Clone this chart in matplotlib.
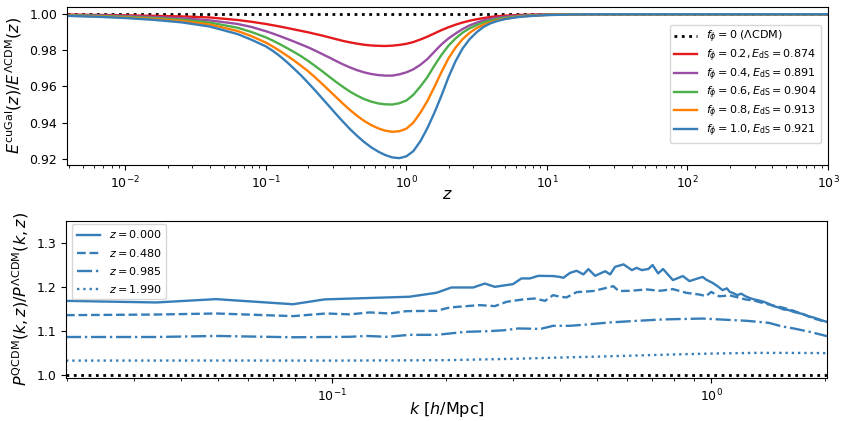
import numpy as np
import matplotlib
matplotlib.use("Agg")
import matplotlib.pyplot as plt

# ---------------- top panel data ----------------
log_z_top = [-2.415, -2.2, -2.0, -1.8, -1.6, -1.4, -1.2, -1.1, -1.0, -0.95, -0.9, -0.85, -0.8,
             -0.75, -0.7, -0.65, -0.6, -0.55, -0.5, -0.45, -0.4, -0.35, -0.3, -0.25, -0.2,
             -0.15, -0.1, -0.05, 0.0, 0.05, 0.1, 0.15, 0.2, 0.25, 0.3, 0.35, 0.4, 0.45, 0.5,
             0.55, 0.6, 0.65, 0.7, 0.8, 0.9, 1.0, 1.1, 1.2, 1.4, 1.7, 2.0, 2.5, 3.0]

E_f02 = [0.9998, 0.9996, 0.9994, 0.9991, 0.9988, 0.9982, 0.9968, 0.9958, 0.9946, 0.9939, 0.9932,
         0.9924, 0.9916, 0.9908, 0.9900, 0.9891, 0.9882, 0.9872, 0.9862, 0.9852, 0.9844, 0.9837,
         0.9831, 0.9827, 0.9825, 0.9824, 0.9826, 0.9830, 0.9836, 0.9846, 0.9860, 0.9876, 0.9894,
         0.9912, 0.9928, 0.9942, 0.9954, 0.9964, 0.9972, 0.9979, 0.9985, 0.9989, 0.9992, 0.9996,
         0.9998, 0.9999, 1.0, 1.0, 1.0, 1.0, 1.0, 1.0, 1.0]
E_f04 = [0.9996, 0.9994, 0.9990, 0.9985, 0.9978, 0.9966, 0.9946, 0.9929, 0.9906, 0.9893, 0.9879,
         0.9864, 0.9849, 0.9833, 0.9817, 0.9799, 0.9780, 0.9761, 0.9741, 0.9722, 0.9705, 0.9690,
         0.9678, 0.9669, 0.9663, 0.9660, 0.9660, 0.9667, 0.9678, 0.9695, 0.9720, 0.9752, 0.9793,
         0.9833, 0.9866, 0.9893, 0.9918, 0.9938, 0.9953, 0.9966, 0.9975, 0.9981, 0.9986, 0.9992,
         0.9996, 0.9998, 0.9999, 1.0, 1.0, 1.0, 1.0, 1.0, 1.0]
E_f06 = [0.9994, 0.9991, 0.9986, 0.9979, 0.9970, 0.9954, 0.9925, 0.9901, 0.9872, 0.9854, 0.9834,
         0.9813, 0.9791, 0.9768, 0.9742, 0.9714, 0.9685, 0.9655, 0.9625, 0.9597, 0.9571, 0.9549,
         0.9530, 0.9516, 0.9506, 0.9501, 0.9500, 0.9507, 0.9522, 0.9554, 0.9600, 0.9652, 0.9716,
         0.9775, 0.9826, 0.9866, 0.9898, 0.9922, 0.9940, 0.9955, 0.9966, 0.9974, 0.9980, 0.9989,
         0.9994, 0.9997, 0.9998, 0.9999, 1.0, 1.0, 1.0, 1.0, 1.0]
E_f08 = [0.9992, 0.9988, 0.9982, 0.9974, 0.9963, 0.9943, 0.9907, 0.9878, 0.9843, 0.9821, 0.9797,
         0.9771, 0.9744, 0.9715, 0.9685, 0.9651, 0.9615, 0.9578, 0.9541, 0.9504, 0.9469, 0.9437,
         0.9409, 0.9386, 0.9368, 0.9355, 0.9349, 0.9352, 0.9366, 0.9400, 0.9455, 0.9520, 0.9598,
         0.9680, 0.9756, 0.9815, 0.9862, 0.9897, 0.9923, 0.9942, 0.9956, 0.9967, 0.9975, 0.9986,
         0.9992, 0.9996, 0.9998, 0.9999, 1.0, 1.0, 1.0, 1.0, 1.0]
E_f10 = [0.9991, 0.9986, 0.9979, 0.9969, 0.9955, 0.9932, 0.9890, 0.9858, 0.9822, 0.9797, 0.9768,
         0.9735, 0.9699, 0.9662, 0.9621, 0.9579, 0.9535, 0.9491, 0.9447, 0.9404, 0.9363, 0.9326,
         0.9292, 0.9263, 0.9239, 0.9220, 0.9207, 0.9203, 0.9213, 0.9242, 0.9297, 0.9370, 0.9455,
         0.9550, 0.9652, 0.9740, 0.9810, 0.9862, 0.9900, 0.9930, 0.9950, 0.9963, 0.9973, 0.9985,
         0.9991, 0.9995, 0.9997, 0.9999, 1.0, 1.0, 1.0, 1.0, 1.0]

top_labels = [r'$f_\phi=0.2, E_{\rm dS}=0.874$', r'$f_\phi=0.4, E_{\rm dS}=0.891$',
              r'$f_\phi=0.6, E_{\rm dS}=0.904$', r'$f_\phi=0.8, E_{\rm dS}=0.913$',
              r'$f_\phi=1.0, E_{\rm dS}=0.921$']
top_colors = ['#e41a1c', '#984ea3', '#4daf4a', '#ff7f00', '#377eb8']

# ---------------- bottom panel data ----------------
k_z0 = [0.0199, 0.0344, 0.0495, 0.0789, 0.0957, 0.1233, 0.160, 0.1887, 0.2065, 0.2358, 0.2530,
        0.2688, 0.3003, 0.316, 0.3326, 0.350, 0.383, 0.399, 0.4076, 0.424, 0.4418, 0.4603,
        0.4746, 0.4941, 0.5254, 0.5414, 0.5581, 0.5874, 0.6178, 0.6362, 0.656, 0.6826, 0.7008,
        0.7245, 0.7465, 0.7927, 0.8418, 0.8764, 0.9219, 0.950, 0.969, 1.008, 1.039, 1.0715,
        1.10, 1.12, 1.145, 1.17, 1.20, 1.2325, 1.265, 1.296, 1.33, 1.3755, 1.41, 1.4605, 1.50,
        1.553, 1.60, 1.648, 1.70, 1.7505, 1.80, 1.859, 1.92, 1.976, 2.02]
P_z0 = [1.1677, 1.1640, 1.1716, 1.1600, 1.1710, 1.1740, 1.1770, 1.1860, 1.1980, 1.1980, 1.2070,
        1.1995, 1.2057, 1.2186, 1.2186, 1.2245, 1.2240, 1.2220, 1.2200, 1.2310, 1.2360, 1.2277,
        1.2398, 1.2245, 1.2350, 1.2277, 1.2450, 1.2505, 1.2375, 1.2427, 1.2375, 1.2400, 1.2490,
        1.2300, 1.2400, 1.2148, 1.2240, 1.2125, 1.2186, 1.2220, 1.2160, 1.2086, 1.2010, 1.1920,
        1.1960, 1.1880, 1.1850, 1.1807, 1.1840, 1.1780, 1.1740, 1.1710, 1.1690, 1.1655, 1.1620,
        1.1557, 1.1530, 1.1480, 1.1470, 1.1427, 1.1400, 1.1375, 1.1330, 1.1300, 1.1260, 1.1223,
        1.1200]

k_z048 = [0.0199, 0.0344, 0.0495, 0.0789, 0.0966, 0.1114, 0.1258, 0.142, 0.1572, 0.1887, 0.2045,
          0.2451, 0.2688, 0.2888, 0.3193, 0.3424, 0.3646, 0.383, 0.399, 0.4156, 0.4418, 0.489,
          0.5525, 0.570, 0.6114, 0.6753, 0.7324, 0.7927, 0.859, 0.931, 0.969, 1.0, 1.05, 1.12,
          1.17, 1.23, 1.30, 1.38, 1.46, 1.55, 1.65, 1.75, 1.86, 1.98, 2.02]
P_z048 = [1.1352, 1.1366, 1.1390, 1.1330, 1.1390, 1.1370, 1.1414, 1.1390, 1.1443, 1.1450, 1.1527,
          1.1580, 1.1557, 1.1655, 1.1710, 1.1730, 1.1677, 1.1807, 1.1770, 1.1755, 1.1875, 1.1900,
          1.2010, 1.1900, 1.1905, 1.1936, 1.1905, 1.1943, 1.1860, 1.1820, 1.1785, 1.1880, 1.1780,
          1.1800, 1.1760, 1.1710, 1.1680, 1.1620, 1.1570, 1.1520, 1.1450, 1.1370, 1.1280, 1.1210,
          1.1200]

k_z0985 = [0.0199, 0.0344, 0.0495, 0.0789, 0.111, 0.1233, 0.14, 0.16, 0.189, 0.225, 0.26, 0.285,
           0.31, 0.355, 0.383, 0.424, 0.47, 0.54, 0.636, 0.746, 0.895, 0.95, 1.05, 1.245, 1.42,
           1.53, 1.65, 1.82, 2.02]
P_z0985 = [1.0856, 1.0856, 1.0880, 1.0850, 1.0860, 1.0880, 1.0860, 1.0905, 1.0905, 1.0973, 1.0989,
           1.1010, 1.1050, 1.1040, 1.1110, 1.1110, 1.1140, 1.1186, 1.1223, 1.1255, 1.1270, 1.1275,
           1.1255, 1.1223, 1.1177, 1.1100, 1.1050, 1.0973, 1.0875]

k_z199 = [0.0199, 0.05, 0.1, 0.15, 0.2, 0.3, 0.4, 0.5, 0.6, 0.8, 1.0, 1.3, 1.6, 2.02]
P_z199 = [1.0320, 1.0322, 1.0320, 1.0325, 1.0330, 1.0360, 1.0390, 1.0410, 1.0430, 1.0460,
          1.0480, 1.0495, 1.0495, 1.0490]

bot_labels = [r'$z=0.000$', r'$z=0.480$', r'$z=0.985$', r'$z=1.990$']
bot_styles = ['-', '--', '-.', ':']

blue = '#377eb8'

z_top = 10.0 ** np.array(log_z_top)

fig = plt.figure(figsize=(8.43, 4.21), dpi=100)
ax1 = fig.add_axes([67/843, (421-165)/421, (828-67)/843, 158/421])
ax2 = fig.add_axes([66/843, (421-378)/421, (827-66)/843, 157/421])

tick_fs = 9
lab_fs = 11.5
leg_fs = 8.0

# top
ax1.plot(z_top, np.ones(len(z_top)), color='k', ls=':', lw=2, label=r'$f_\phi=0$ ($\Lambda$CDM)')
for vals, lab, col in zip([E_f02, E_f04, E_f06, E_f08, E_f10], top_labels, top_colors):
    ax1.plot(z_top, vals, color=col, lw=1.7, label=lab)
ax1.set_xscale('log')
ax1.set_xlim(0.00385, 1000)
ax1.set_ylim(0.9165, 1.004)
ax1.set_yticks([0.92, 0.94, 0.96, 0.98, 1.00])
ax1.set_yticklabels(['0.92', '0.94', '0.96', '0.98', '1.00'])
ax1.set_xlabel(r'$z$', fontsize=lab_fs, labelpad=-3)
ax1.set_ylabel(r'$E^{\rm cuGal}(z)/E^{\Lambda{\rm CDM}}(z)$', fontsize=lab_fs, labelpad=4)
ax1.tick_params(labelsize=tick_fs)
ax1.legend(loc='lower right', fontsize=leg_fs, bbox_to_anchor=(0.991, 0.139),
           borderaxespad=0, handlelength=2.1, labelspacing=0.2)

# bottom
ax2.plot([0.0199, 2.02], [1.0, 1.0], color='k', ls=':', lw=2)
for kk, pp, lab, ls in zip([k_z0, k_z048, k_z0985, k_z199], [P_z0, P_z048, P_z0985, P_z199],
                           bot_labels, bot_styles):
    ax2.plot(kk, pp, color=blue, ls=ls, lw=1.7, label=lab)
ax2.set_xscale('log')
ax2.set_xlim(0.0199, 2.02)
ax2.set_ylim(0.9925, 1.349)
ax2.set_yticks([1.0, 1.1, 1.2, 1.3])
ax2.set_xlabel(r'$k$ [$h$/Mpc]', fontsize=lab_fs, labelpad=-3)
ax2.set_ylabel(r'$P^{\rm QCDM}(k,z)/P^{\Lambda{\rm CDM}}(k,z)$', fontsize=lab_fs, labelpad=4)
ax2.tick_params(labelsize=tick_fs)
ax2.legend(loc='upper left', fontsize=leg_fs, bbox_to_anchor=(0.008, 0.981),
           borderaxespad=0, handlelength=2.1, labelspacing=0.55)

fig.savefig('out.png', dpi=100)
